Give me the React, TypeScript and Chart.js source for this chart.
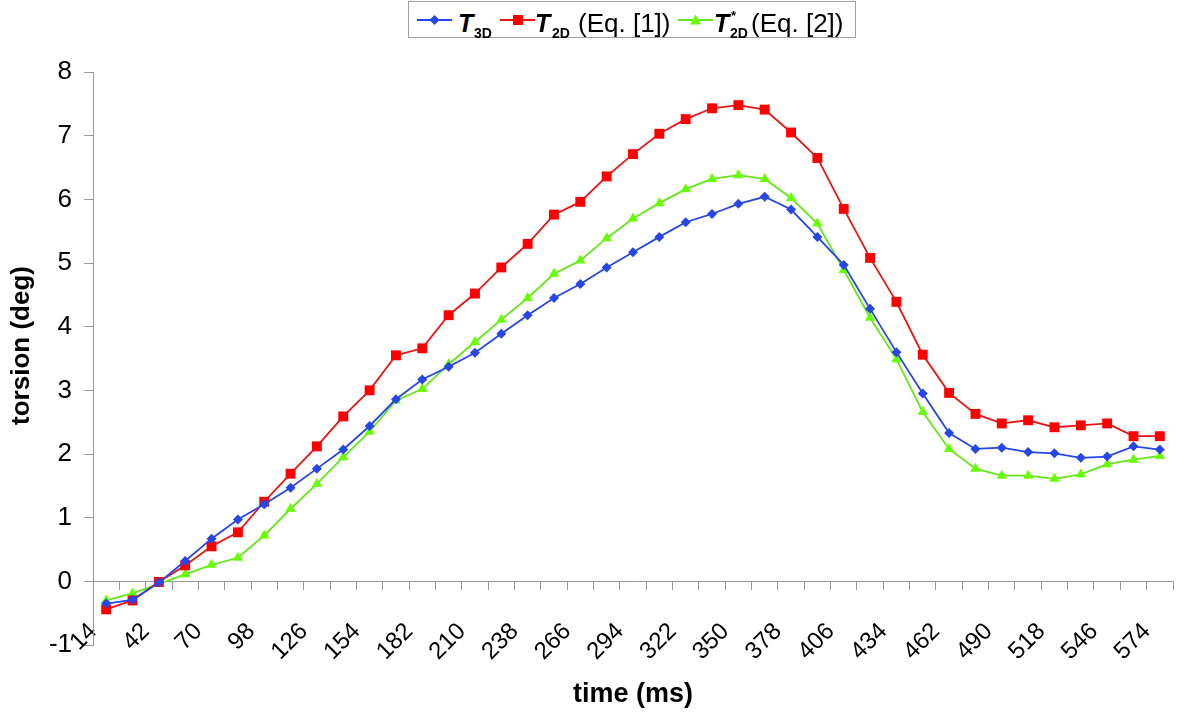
import React, { useEffect, useRef } from "react";
import { Chart, registerables } from "chart.js";

Chart.register(...registerables);

const times = [
  14, 28, 42, 56, 70, 84, 98, 112, 126, 140, 154, 168, 182, 196, 210, 224, 238, 252, 266, 280,
  294, 308, 322, 336, 350, 364, 378, 392, 406, 420, 434, 448, 462, 476, 490, 504, 518, 532, 546,
  560, 574,
];

const t3d = [
  -0.35, -0.29, -0.02, 0.32, 0.67, 0.97, 1.21, 1.47, 1.77, 2.07, 2.44, 2.86, 3.17, 3.37, 3.59,
  3.89, 4.18, 4.45, 4.67, 4.93, 5.17, 5.41, 5.64, 5.77, 5.93, 6.04, 5.84, 5.41, 4.97, 4.28, 3.6,
  2.95, 2.33, 2.08, 2.1, 2.03, 2.01, 1.94, 1.96, 2.12, 2.07,
];

const t2dEq1 = [
  -0.44, -0.3, -0.01, 0.25, 0.55, 0.77, 1.25, 1.69, 2.12, 2.59, 3.0, 3.55, 3.66, 4.18, 4.52,
  4.93, 5.3, 5.76, 5.96, 6.36, 6.71, 7.03, 7.26, 7.43, 7.48, 7.41, 7.05, 6.65, 5.85, 5.08, 4.39,
  3.56, 2.96, 2.63, 2.48, 2.53, 2.42, 2.45, 2.48, 2.28, 2.28,
];

const t2dEq2 = [
  -0.3, -0.19, -0.04, 0.11, 0.26, 0.37, 0.72, 1.14, 1.53, 1.95, 2.35, 2.84, 3.02, 3.41, 3.76,
  4.11, 4.45, 4.83, 5.04, 5.39, 5.7, 5.94, 6.16, 6.32, 6.38, 6.32, 6.02, 5.62, 4.89, 4.14, 3.49,
  2.66, 2.08, 1.77, 1.66, 1.66, 1.61, 1.68, 1.84, 1.91, 1.97,
];

const yMin = -1;
const yMax = 8;
const yStep = 1;
const yTitle = "torsion (deg)";
const xTitle = "time (ms)";

const BLUE = "#2846e6";
const RED = "#ff0000";
const RED_LINE = "#e81414";
const GREEN = "#66ff00";
const GREEN_LINE = "#66e61a";
const FONT = "'Liberation Sans', Arial, sans-serif";

function Marker({ kind, line, fill }: { kind: string; line: string; fill: string }) {
  let shape: React.ReactNode = null;
  if (kind === "diamond") {
    shape = <polygon points="17.5,5 22.5,10 17.5,15 12.5,10" fill={fill} />;
  } else if (kind === "square") {
    shape = <rect x={13} y={5} width={10} height={10} fill={fill} />;
  } else {
    shape = <polygon points="17.5,4.5 23,14.5 12,14.5" fill={fill} />;
  }
  return (
    <svg width={35} height={20} style={{ display: "block" }}>
      <line x1={0} y1={10} x2={35} y2={10} stroke={line} strokeWidth={1.8} />
      {shape}
    </svg>
  );
}

const abs = (left: number, top: number, extra: React.CSSProperties = {}): React.CSSProperties => ({
  position: "absolute",
  left: left - 408,
  top,
  whiteSpace: "nowrap",
  lineHeight: 1,
  fontFamily: FONT,
  color: "#000",
  ...extra,
});

const bigT: React.CSSProperties = { fontSize: 25, fontWeight: "bold", fontStyle: "italic" };
const sub: React.CSSProperties = { fontSize: 14, fontWeight: "bold" };
const eq: React.CSSProperties = { fontSize: 26 };

function Legend() {
  return (
    <div
      style={{
        position: "absolute",
        left: 408,
        top: 1,
        width: 448,
        height: 37,
        border: "1px solid #a0a0a0",
        boxSizing: "border-box",
        background: "#fff",
      }}
    >
      <div style={abs(416, 8)}>
        <Marker kind="diamond" line={BLUE} fill={BLUE} />
      </div>
      <span style={abs(457, 9, bigT)}>T</span>
      <span style={abs(473, 24, sub)}>3D</span>

      <div style={abs(499, 8)}>
        <Marker kind="square" line={RED_LINE} fill={RED} />
      </div>
      <span style={abs(534, 9, bigT)}>T</span>
      <span style={abs(551, 24, sub)}>2D</span>
      <span style={abs(577, 8, eq)}>(Eq. [1])</span>

      <div style={abs(677, 8)}>
        <Marker kind="triangle" line={GREEN_LINE} fill={GREEN} />
      </div>
      <span style={abs(713, 9, bigT)}>T</span>
      <span style={abs(730, 7, { fontSize: 13, fontWeight: "bold" })}>*</span>
      <span style={abs(729, 24, sub)}>2D</span>
      <span style={abs(750, 8, eq)}>(Eq. [2])</span>
    </div>
  );
}

const yTitlePlugin = {
  id: "yTitleCustom",
  afterDraw(chart: any) {
    const { ctx, chartArea } = chart;
    ctx.save();
    ctx.translate(22, (chartArea.top + chartArea.bottom) / 2 - 13);
    ctx.rotate(-Math.PI / 2);
    ctx.font = `bold 26px ${FONT}`;
    ctx.fillStyle = "#000";
    ctx.textAlign = "center";
    ctx.textBaseline = "middle";
    ctx.fillText(yTitle, 0, 0);
    ctx.restore();
  },
};

export default function App() {
  const ref = useRef<HTMLCanvasElement | null>(null);

  useEffect(() => {
    document.body.style.margin = "0";
    if (!ref.current) return;
    const chart = new Chart(ref.current, {
      type: "line",
      data: {
        labels: times.map(String),
        datasets: [
          {
            label: "T3D",
            data: t3d,
            borderColor: BLUE,
            backgroundColor: BLUE,
            borderWidth: 1.8,
            pointStyle: "rectRot",
            pointRadius: 5,
            pointBorderWidth: 0,
            tension: 0,
          },
          {
            label: "T2D (Eq. [1])",
            data: t2dEq1,
            borderColor: RED_LINE,
            backgroundColor: RED,
            pointBorderColor: RED,
            borderWidth: 1.8,
            pointStyle: "rect",
            pointRadius: 7,
            pointBorderWidth: 0,
            tension: 0,
          },
          {
            label: "T*2D (Eq. [2])",
            data: t2dEq2,
            borderColor: GREEN_LINE,
            backgroundColor: GREEN,
            pointBorderColor: GREEN,
            borderWidth: 1.8,
            pointStyle: "triangle",
            pointRadius: 6,
            pointBorderWidth: 0,
            tension: 0,
          },
        ],
      },
      options: {
        animation: false,
        responsive: false,
        maintainAspectRatio: false,
        layout: { padding: { top: 72, right: 27, bottom: 71, left: 0 } },
        plugins: { legend: { display: false }, tooltip: { enabled: false } },
        scales: {
          x: {
            type: "category",
            position: { y: 0 } as any,
            offset: true,
            grid: {
              offset: true,
              drawOnChartArea: false,
              drawTicks: true,
              tickLength: 8,
              color: "#999",
            },
            border: { color: "#999", width: 1 },
            ticks: {
              autoSkip: false,
              maxRotation: 45,
              minRotation: 45,
              padding: 28,
              labelOffset: -13,
              color: "#000",
              font: { family: FONT, size: 24 },
              callback: (_v: any, i: number) => (i % 2 === 0 ? String(times[i]) : ""),
            },
            title: {
              display: true,
              text: xTitle,
              color: "#000",
              font: { family: FONT, size: 27, weight: "bold" },
              padding: { top: -16, bottom: 0 },
            },
            afterFit: (scale: any) => {
              scale.paddingLeft = 0;
              scale.paddingRight = 0;
            },
          },
          y: {
            min: yMin,
            max: yMax,
            grid: {
              drawOnChartArea: false,
              drawTicks: true,
              tickLength: 9,
              color: "#999",
            },
            border: { color: "#999", width: 1 },
            ticks: {
              stepSize: yStep,
              padding: 12,
              color: "#000",
              font: { family: FONT, size: 26 },
            },
            title: { display: false },
            afterFit: (scale: any) => {
              scale.width = 93;
            },
          },
        },
      },
      plugins: [yTitlePlugin],
    });
    return () => chart.destroy();
  }, []);

  return (
    <div style={{ position: "relative", width: 1200, height: 716, background: "#fff" }}>
      <canvas ref={ref} width={1200} height={716} style={{ display: "block" }} />
      <Legend />
    </div>
  );
}
